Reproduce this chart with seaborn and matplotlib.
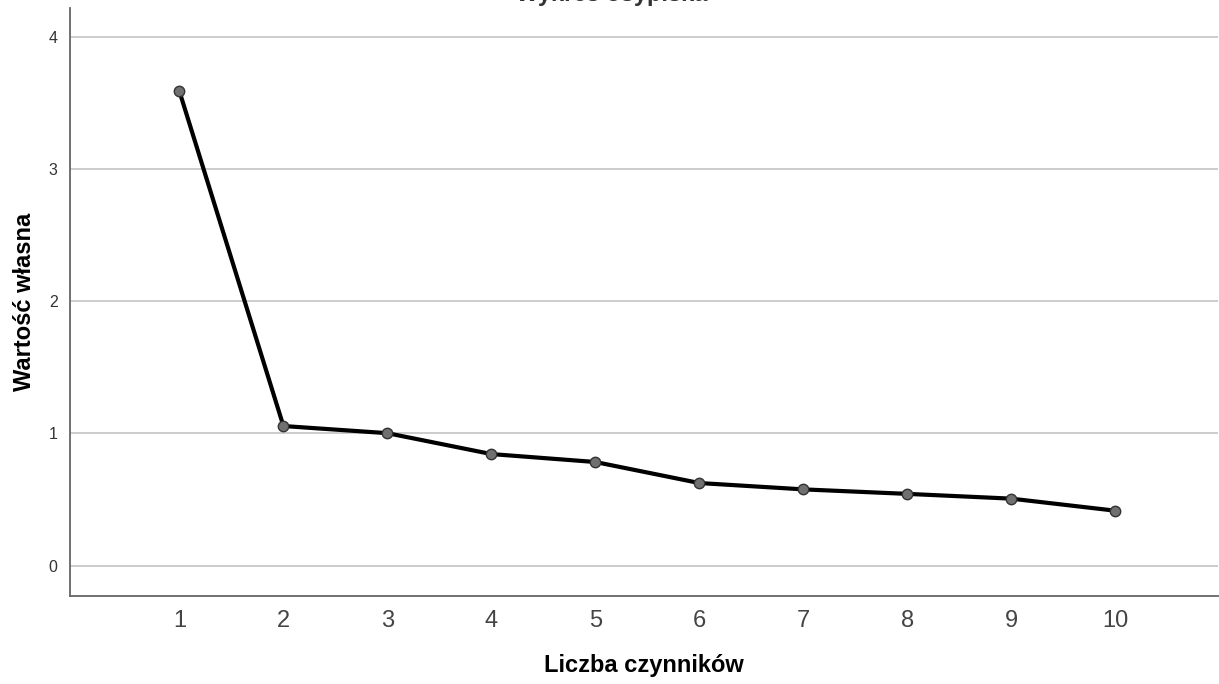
import matplotlib
matplotlib.use("Agg")
import matplotlib.pyplot as plt
import seaborn as sns
import pandas as pd

factors = [1, 2, 3, 4, 5, 6, 7, 8, 9, 10]
eigenvalues = [3.586, 1.056, 1.002, 0.844, 0.784, 0.625, 0.577, 0.543, 0.507, 0.416]
y_ticks = [0, 1, 2, 3, 4]
title = "Wykres osypiska"
x_label = "Liczba czynników"
y_label = "Wartość własna"

df = pd.DataFrame({"factor": factors, "eigen": eigenvalues})

sns.set_theme(style="white")
plt.rcParams["font.family"] = ["Liberation Sans", "DejaVu Sans"]

W, H = 1219, 684
fig = plt.figure(figsize=(W / 100, H / 100), dpi=100)
ax = fig.add_axes([70 / W, 88.3 / H, 1148 / W, 587.7 / H])

for yv in y_ticks:
    ax.axhline(yv, color="#c8c8c8", lw=1.3, zorder=0)

sns.lineplot(data=df, x="factor", y="eigen", ax=ax, color="black", lw=3.0,
             marker="o", markersize=7.5, markerfacecolor="#707070",
             markeredgecolor="#333333", markeredgewidth=1.0, zorder=3)

ax.set_xlim(-0.053, 10.99)
ax.set_ylim(-0.227, 4.217)
ax.set_xticks(factors)
ax.set_xticklabels([str(f) for f in factors], fontsize=17, color="#444444")
ax.set_yticks(y_ticks)
ax.set_yticklabels([str(v) for v in y_ticks], fontsize=11.5, color="#333333")
ax.tick_params(axis="both", length=0)
ax.tick_params(axis="x", pad=10)
ax.tick_params(axis="y", pad=9)

for side in ["top", "right"]:
    ax.spines[side].set_visible(False)
for side in ["left", "bottom"]:
    ax.spines[side].set_color("#666666")
    ax.spines[side].set_linewidth(1.3)

ax.set_xlabel(x_label, fontsize=17, fontweight="bold", color="black", labelpad=16)
ax.set_ylabel(y_label, fontsize=17, fontweight="bold", color="black", labelpad=9)
ax.grid(False)

fig.text(612 / W, 1 - 1.5 / H, title, ha="center", va="baseline",
         fontsize=17, fontweight="bold", color="#333333")

fig.savefig("out.png", dpi=100)
